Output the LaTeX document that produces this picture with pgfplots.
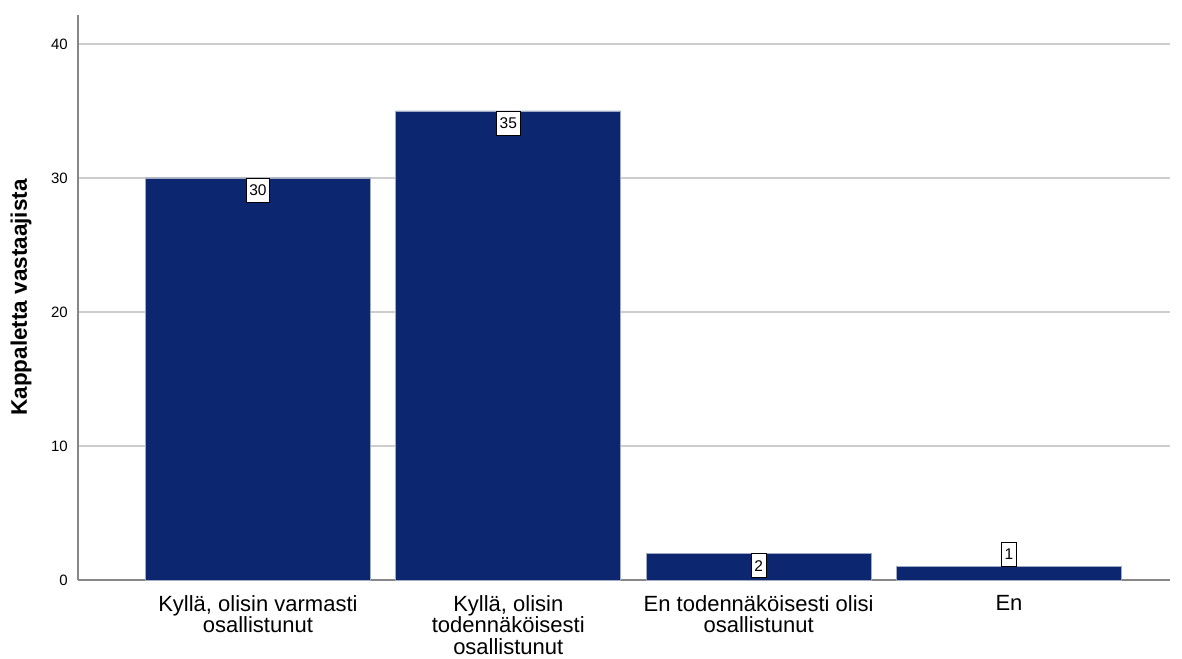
\documentclass[border=0pt]{standalone}
\usepackage{pgfplots}
\pgfplotsset{compat=1.18}
\usepackage{pgfplotstable}
\usepackage{fontspec}
\setmainfont{Liberation Sans}

\definecolor{barblue}{RGB}{12,38,112}
\definecolor{baredge}{RGB}{160,170,195}
\definecolor{axisgray}{RGB}{135,135,135}
\definecolor{gridgray}{RGB}{205,205,205}

% answers: position, count, and how far the count label is lifted
% (0 = just inside the bar top, 24.8 = sitting on top of the bar)
\pgfplotstableread{
x y lift
0 30 0
1 35 0
2 2 0
3 1 24.8
}\answers

\begin{document}
\begin{tikzpicture}
\begin{axis}[
  name=main,
  scale only axis,
  width=1092pt, height=565pt,
  xmin=-0.7186, xmax=3.643,
  ymin=0, ymax=42.16,
  axis lines=left,
  axis line style={draw=axisgray, line width=1.3pt, -},
  ytick={0,10,20,30,40},
  ymajorgrids,
  grid style={draw=gridgray, line width=1.3pt},
  major tick length=0pt,
  xtick={0,1,2,3},
  xticklabels={{Kyllä, olisin varmasti\\osallistunut},
               {Kyllä, olisin\\todennäköisesti\\osallistunut},
               {En todennäköisesti olisi\\osallistunut},
               {En}},
  xticklabel style={align=center, font=\fontsize{22}{21.5}\selectfont,
                    anchor=north, inner sep=0pt, yshift=-15pt},
  yticklabel style={font=\fontsize{15}{18}\selectfont, anchor=east,
                    inner sep=0pt, xshift=-10pt},
  /pgf/number format/assume math mode=true,
  ylabel={Kappaletta vastaajista},
  every axis y label/.style={at={(rel axis cs:-0.0522,0.5)}, rotate=90,
                             anchor=center,
                             font=\bfseries\fontsize{22.5}{26}\selectfont},
]
\addplot[ybar, bar width=225pt, fill=barblue, draw=baredge, line width=0.8pt,
  nodes near coords,
  visualization depends on={\thisrow{lift} \as \lift},
  every node near coord/.append style={anchor=north, fill=white, draw=black,
     line width=0.8pt, font=\fontsize{15.5}{18}\selectfont,
     inner xsep=3pt, inner ysep=6.5pt, text height=11pt, text depth=0pt,
     yshift=\lift pt}]
  table[x=x, y=y] {\answers};
\end{axis}
\pgfresetboundingbox
\path[use as bounding box] ([shift={(-78pt,-78pt)}]main.south west)
  rectangle ([shift={(12pt,15pt)}]main.north east);
\end{tikzpicture}
\end{document}
